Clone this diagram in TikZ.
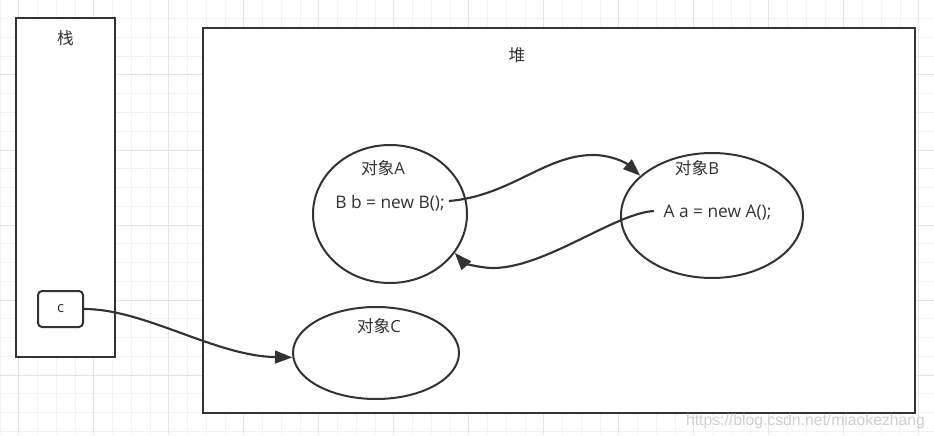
\documentclass[tikz,border=0pt]{standalone}
\usepackage{fontspec}
\setmainfont{Open Sans}
\newfontfamily\cjk{Noto Sans CJK SC}
\newfontfamily\wmfont{Liberation Sans}
\usetikzlibrary{shapes.geometric,arrows.meta}
\definecolor{linec}{HTML}{333333}
\definecolor{textc}{HTML}{333333}
\definecolor{minorc}{HTML}{F2F2F2}
\definecolor{majorc}{HTML}{E4E4E4}
\definecolor{wmc}{HTML}{CFCFCF}
\begin{document}
\begin{tikzpicture}[x=0.75pt,y=-0.75pt,
  box/.style={draw=linec,line width=1.5pt,fill=white,inner sep=0pt},
  obj/.style={ellipse,draw=linec,line width=1.5pt,fill=white,inner sep=0pt},
  lbl/.style={text=textc,font=\fontsize{12.5}{14}\selectfont,inner sep=0pt},
  code/.style={text=textc,font=\fontsize{13}{15}\selectfont,inner sep=0pt},
  conn/.style={draw=linec,line width=1.6pt,-{Triangle[length=13pt,width=9.5pt]}},
  ]
\useasboundingbox (0,0) rectangle (934,435);
\fill[white] (0,0) rectangle (934,435);
% grid
\foreach \i in {0,...,49} {
  \draw[minorc,line width=0.75pt] (\i*18.75,0) -- (\i*18.75,435);
}
\foreach \i in {0,...,23} {
  \draw[minorc,line width=0.75pt] (0,\i*18.75) -- (934,\i*18.75);
}
\foreach \i in {0,...,12} {
  \draw[majorc,line width=0.75pt] (18.75+\i*75,0) -- (18.75+\i*75,435);
}
\foreach \i in {0,...,5} {
  \draw[majorc,line width=0.75pt] (0,\i*75) -- (934,\i*75);
}
% containers
\node[box,minimum width=74.25pt,minimum height=254.25pt] (stack) at (65.5,187.5) {};
\node[box,minimum width=534pt,minimum height=288.75pt] (heap) at (559,220.5) {};
\node[lbl] (stacklbl) at (65.5,38) {\cjk 栈};
\node[lbl] (heaplbl) at (517,55) {\cjk 堆};
% objects
\node[obj,minimum width=115.5pt,minimum height=103.5pt] (A) at (390,214) {};
\node[obj,minimum width=136.5pt,minimum height=93.75pt] (B) at (712,215.5) {};
\node[obj,minimum width=124.5pt,minimum height=69pt] (C) at (376,353) {};
\node[lbl] (Alabel) at (383,168) {{\cjk 对象}A};
\node[code] (Acode) at (390,203) {B b = new B();};
\node[lbl] (Blabel) at (697,168) {{\cjk 对象}B};
\node[code] (Bcode) at (717.5,213) {A a = new A();};
\node[lbl] (Clabel) at (379,326) {{\cjk 对象}C};
\node[box,rounded corners=3pt,minimum width=33.75pt,minimum height=27pt,lbl,draw=linec,font=\fontsize{11}{12}\selectfont] (cvar) at (60.5,309) {c};
% connectors
\coordinate (a1) at (449,201);
\coordinate (b1) at (654,211);
\coordinate (c1) at (cvar.east);
\draw[conn] (a1) .. controls (510,196) and (545,155) .. (593,155)
  .. controls (610,155) and (625,162) .. (B.151);
\draw[conn] (b1) .. controls (615,213) and (545,268) .. (493,268)
  .. controls (478,268) and (463,262) .. (A.-31);
\draw[conn] (c1) .. controls (145,309) and (215,356) .. (C.183);
% watermark
\node[text=wmc,font=\wmfont\fontsize{11.8}{13}\selectfont,inner sep=0pt] (wm) at (805.5,421) {https://blog.csdn.net/miaokezhang};
\end{tikzpicture}
\end{document}
